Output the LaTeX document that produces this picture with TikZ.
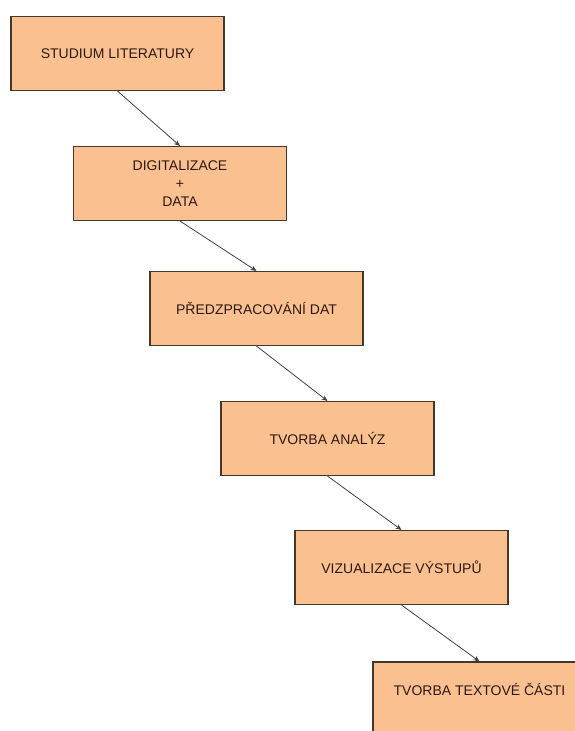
\documentclass[tikz,border=0pt]{standalone}
\usepackage{fontspec}
\setmainfont{Liberation Sans}
\usetikzlibrary{arrows.meta}
\definecolor{boxfill}{RGB}{250,192,143}
\definecolor{boxline}{RGB}{70,55,45}
\definecolor{boxtext}{RGB}{45,25,20}

\begin{document}
\begin{tikzpicture}[x=1pt,y=-1pt,
	phase/.style={draw=boxline,fill=boxfill,line width=1.1pt,
		minimum width=213pt,minimum height=74pt,inner sep=0pt,
		align=center,text=boxtext,font=\fontsize{14}{18}\selectfont},
	flow/.style={draw=black!75,line width=0.8pt,-{Stealth[length=6pt,width=5pt]}}]
	
	\useasboundingbox (0,0) rectangle (575,731);
	\clip (0,0) rectangle (575,731);
	
	\node[phase] (Studium) at (117.5,53.5) {STUDIUM LITERATURY};
	\node[phase] (Digit) at (180,183.5) {DIGITALIZACE\\+\\DATA};
	\node[phase] (Predzpr) at (256.5,308.5) {PŘEDZPRACOVÁNÍ DAT};
	\node[phase] (Analyzy) at (327.5,438.5) {TVORBA ANALÝZ};
	\node[phase] (Vizual) at (401.5,567.5) {VIZUALIZACE VÝSTUPŮ};
	\node[phase,text depth=20pt] (Text) at (479.5,699) {TVORBA TEXTOVÉ ČÁSTI};
	
	\draw[flow] (Studium.south) -- (Digit.north);
	\draw[flow] (Digit.south) -- (Predzpr.north);
	\draw[flow] (Predzpr.south) -- (Analyzy.north);
	\draw[flow] (Analyzy.south) -- (Vizual.north);
	\draw[flow] (Vizual.south) -- (Text.north);
	
\end{tikzpicture}
\end{document}
